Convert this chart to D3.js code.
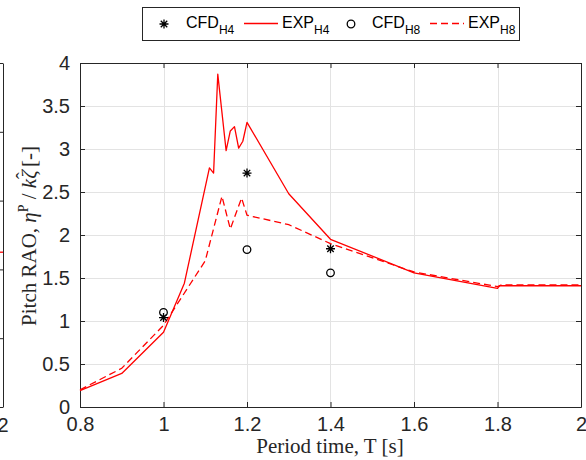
<!DOCTYPE html>
<html>
<head>
<meta charset="utf-8">
<script src="https://cdn.jsdelivr.net/npm/d3@7"></script>
<style>
  body { margin: 0; background: #fff; }
  svg { display: block; }
</style>
</head>
<body>
<svg id="chart" width="586" height="460"></svg>
<script>
// Experimental pitch RAO, H4 (solid) and H8 (dashed)
const periodExpH4 = [0.8, 0.9, 1.0, 1.05, 1.11, 1.12, 1.13, 1.15, 1.16, 1.17, 1.18, 1.19, 1.2, 1.3, 1.4, 1.6, 1.8, 1.805, 2.0];
const raoExpH4 = [0.19, 0.39, 0.87, 1.44, 2.78, 2.72, 3.87, 2.98, 3.21, 3.26, 3.01, 3.09, 3.31, 2.48, 1.95, 1.56, 1.38, 1.41, 1.41];
const periodExpH8 = [0.8, 0.9, 1.0, 1.1, 1.14, 1.16, 1.187, 1.2, 1.3, 1.4, 1.6, 1.8, 1.81, 2.0];
const raoExpH8 = [0.2, 0.45, 0.95, 1.7, 2.45, 2.07, 2.43, 2.23, 2.12, 1.9, 1.57, 1.4, 1.42, 1.42];

// CFD points
const periodCfd = [1.0, 1.2, 1.4];
const raoCfdH4 = [1.04, 2.72, 1.84];
const raoCfdH8 = [1.10, 1.83, 1.56];

const xTicks = [0.8, 1, 1.2, 1.4, 1.6, 1.8, 2];
const xTickLabels = ['0.8', '1', '1.2', '1.4', '1.6', '1.8', '2'];
const yTicks = [0, 0.5, 1, 1.5, 2, 2.5, 3, 3.5, 4];
const yTickLabels = ['0', '0.5', '1', '1.5', '2', '2.5', '3', '3.5', '4'];

// right edge of the neighbouring subplot (cut off at the left border)
const leftPanelTicks = [0, 1, 2, 3, 4, 5];
const leftPanelTail = [2.25];

const axisColor = '#262626';
const gridColor = '#e3e3e3';
const red = '#ff0000';

const svg = d3.select('#chart');

const x = d3.scaleLinear().domain([0.8, 2]).range([80, 581]);
const y = d3.scaleLinear().domain([0, 4]).range([407, 63]);
const yLeft = d3.scaleLinear().domain([0, 5]).range([407, 63]);

// Grid
svg.append('g')
  .selectAll('line')
  .data(xTicks)
  .enter()
  .append('line')
  .attr('x1', (d) => Math.round(x(d)) + 0.5)
  .attr('x2', (d) => Math.round(x(d)) + 0.5)
  .attr('y1', y(4))
  .attr('y2', y(0))
  .attr('stroke', gridColor);

svg.append('g')
  .selectAll('line')
  .data(yTicks)
  .enter()
  .append('line')
  .attr('x1', x(0.8))
  .attr('x2', x(2))
  .attr('y1', (d) => Math.round(y(d)) + 0.5)
  .attr('y2', (d) => Math.round(y(d)) + 0.5)
  .attr('stroke', gridColor);

// Axes (ticks pointing inward, box on)
const styleAxis = (g) => {
  g.selectAll('path, line').attr('stroke', axisColor);
  g.selectAll('text')
    .attr('fill', axisColor)
    .attr('font-family', '"Liberation Sans", Arial, sans-serif')
    .attr('font-size', 20);
};

svg.append('g')
  .attr('transform', `translate(0,${y(0)})`)
  .call(d3.axisBottom(x).tickValues(xTicks).tickFormat((d, i) => xTickLabels[i])
    .tickSizeInner(-5).tickSizeOuter(0).tickPadding(10))
  .call(styleAxis);

svg.append('g')
  .attr('transform', `translate(0,${y(4)})`)
  .call(d3.axisTop(x).tickValues(xTicks).tickFormat('').tickSizeInner(-5).tickSizeOuter(0))
  .call(styleAxis);

svg.append('g')
  .attr('transform', `translate(${x(0.8)},0)`)
  .call(d3.axisLeft(y).tickValues(yTicks).tickFormat((d, i) => yTickLabels[i])
    .tickSizeInner(-5).tickSizeOuter(0).tickPadding(10))
  .call(styleAxis);

svg.append('g')
  .attr('transform', `translate(${x(2)},0)`)
  .call(d3.axisRight(y).tickValues(yTicks).tickFormat('').tickSizeInner(-5).tickSizeOuter(0))
  .call(styleAxis);

svg.selectAll('.tick text').attr('stroke', 'none');

// Neighbouring panel fragment
svg.append('g')
  .attr('transform', 'translate(3,0)')
  .call(d3.axisRight(yLeft).tickValues(leftPanelTicks).tickFormat('').tickSizeInner(-5).tickSizeOuter(0))
  .call(styleAxis);

svg.append('g')
  .selectAll('line')
  .data(leftPanelTail)
  .enter()
  .append('line')
  .attr('x1', 0)
  .attr('x2', 3)
  .attr('y1', (d) => yLeft(d))
  .attr('y2', (d) => yLeft(d))
  .attr('stroke', red)
  .attr('stroke-width', 1.3);

svg.append('text')
  .attr('x', 3)
  .attr('y', 432)
  .attr('text-anchor', 'middle')
  .attr('font-family', '"Liberation Sans", Arial, sans-serif')
  .attr('font-size', 20)
  .attr('fill', axisColor)
  .text('2');

// Lines
const line = d3.line()
  .x((d) => x(d[0]))
  .y((d) => y(d[1]));

svg.append('path')
  .datum(d3.zip(periodExpH4, raoExpH4))
  .attr('fill', 'none')
  .attr('stroke', red)
  .attr('stroke-width', 1.3)
  .attr('stroke-linejoin', 'round')
  .attr('d', line);

svg.append('path')
  .datum(d3.zip(periodExpH8, raoExpH8))
  .attr('fill', 'none')
  .attr('stroke', red)
  .attr('stroke-width', 1.3)
  .attr('stroke-dasharray', '7,4')
  .attr('d', line);

// Markers
const asterisk = (s) => {
  const a = s * 0.72;
  return `M${-s},0L${s},0M0,${-s}L0,${s}M${-a},${-a}L${a},${a}M${-a},${a}L${a},${-a}`;
};

svg.append('g')
  .selectAll('circle')
  .data(d3.zip(periodCfd, raoCfdH8))
  .enter()
  .append('circle')
  .attr('cx', (d) => x(d[0]))
  .attr('cy', (d) => y(d[1]))
  .attr('r', 3.8)
  .attr('fill', 'none')
  .attr('stroke', '#000')
  .attr('stroke-width', 1.3);

svg.append('g')
  .selectAll('path')
  .data(d3.zip(periodCfd, raoCfdH4))
  .enter()
  .append('path')
  .attr('transform', (d) => `translate(${x(d[0])},${y(d[1])})`)
  .attr('d', asterisk(4.5))
  .attr('fill', 'none')
  .attr('stroke', '#000')
  .attr('stroke-width', 1.3);

// Axis labels
const serif = '"Liberation Serif", "Times New Roman", serif';

svg.append('text')
  .attr('x', 330)
  .attr('y', 453)
  .attr('text-anchor', 'middle')
  .attr('font-family', serif)
  .attr('font-size', 21)
  .attr('fill', axisColor)
  .text('Period time, T [s]');

const yLabel = svg.append('text')
  .attr('transform', 'translate(36,236) rotate(-90)')
  .attr('text-anchor', 'middle')
  .attr('font-family', serif)
  .attr('font-size', 21)
  .attr('fill', axisColor);
yLabel.append('tspan').text('Pitch RAO, ');
yLabel.append('tspan').attr('font-style', 'italic').text('η');
yLabel.append('tspan').attr('font-size', 14).attr('dy', -8).text('P');
yLabel.append('tspan').attr('dy', 8).text(' / ');
yLabel.append('tspan').attr('font-style', 'italic').text('kζ');
yLabel.append('tspan').attr('dx', -9).attr('dy', -5).text('ˆ');
yLabel.append('tspan').attr('dy', 5).text(' [-]');

// Legend
const legend = svg.append('g');
legend.append('rect')
  .attr('x', 142.5)
  .attr('y', 7.5)
  .attr('width', 377)
  .attr('height', 33)
  .attr('fill', '#fff')
  .attr('stroke', axisColor);

const legendItems = [
  { kind: 'asterisk', label: 'CFD', sub: 'H4', mx: 164, tx: 186 },
  { kind: 'solid', label: 'EXP', sub: 'H4', mx: 244, tx: 282 },
  { kind: 'circle', label: 'CFD', sub: 'H8', mx: 351, tx: 372 },
  { kind: 'dashed', label: 'EXP', sub: 'H8', mx: 430, tx: 468 }
];

legendItems.forEach((it) => {
  if (it.kind === 'asterisk') {
    legend.append('path')
      .attr('transform', `translate(${it.mx},24)`)
      .attr('d', asterisk(4.5))
      .attr('stroke', '#000')
      .attr('stroke-width', 1.3);
  } else if (it.kind === 'circle') {
    legend.append('circle')
      .attr('cx', it.mx)
      .attr('cy', 24)
      .attr('r', 3.8)
      .attr('fill', 'none')
      .attr('stroke', '#000')
      .attr('stroke-width', 1.3);
  } else {
    legend.append('line')
      .attr('x1', it.mx)
      .attr('x2', it.mx + 34)
      .attr('y1', 23.5)
      .attr('y2', 23.5)
      .attr('stroke', red)
      .attr('stroke-width', 1.3)
      .attr('stroke-dasharray', it.kind === 'dashed' ? '7,4' : null);
  }
  const t = legend.append('text')
    .attr('x', it.tx)
    .attr('y', 28)
    .attr('font-family', '"Liberation Sans", Arial, sans-serif')
    .attr('font-size', 16)
    .attr('fill', '#000');
  t.append('tspan').text(it.label);
  t.append('tspan').attr('font-size', 12).attr('dy', 6).text(it.sub);
});
</script>
</body>
</html>
